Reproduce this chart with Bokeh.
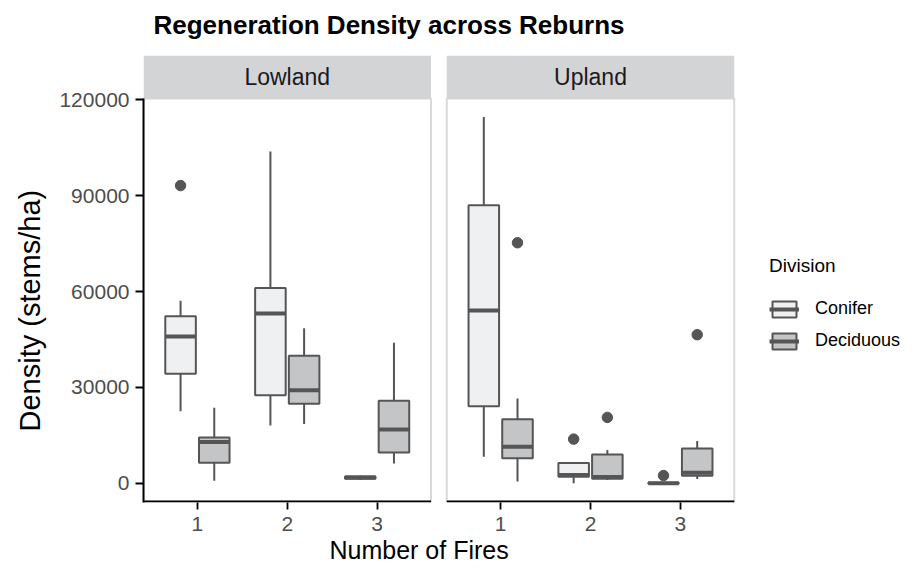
import numpy as np
from bokeh.plotting import figure
from bokeh.models import (FixedTicker, Legend, LegendItem, Range1d, Title,
                          BasicTickFormatter, ColumnDataSource)
from bokeh.embed import file_html
from bokeh.resources import INLINE
from bokeh.core.properties import value

# ---------------- data ----------------
regions = ["Lowland", "Upland"]
divisions = ["Conifer", "Deciduous"]
fires = [1, 2, 3]
fire_labels = ["1", "2", "3"]
y_ticks = [0, 30000, 60000, 90000, 120000]

# five-number summaries for Number of Fires = 1, 2, 3
lowland_conifer_lower = [22500, 18100, 1000]
lowland_conifer_q1 = [34300, 27500, 1400]
lowland_conifer_median = [45900, 53100, 1750]
lowland_conifer_q3 = [52300, 61100, 2100]
lowland_conifer_upper = [57100, 103900, 2300]

lowland_deciduous_lower = [800, 18500, 6200]
lowland_deciduous_q1 = [6400, 24900, 9600]
lowland_deciduous_median = [12900, 29100, 16800]
lowland_deciduous_q3 = [14300, 39900, 25800]
lowland_deciduous_upper = [23600, 48500, 44000]

upland_conifer_lower = [8300, 0, 0]
upland_conifer_q1 = [24100, 2000, 0]
upland_conifer_median = [54100, 2600, 0]
upland_conifer_q3 = [87000, 6300, 150]
upland_conifer_upper = [114700, 6300, 200]

upland_deciduous_lower = [500, 1000, 1300]
upland_deciduous_q1 = [7800, 1400, 2300]
upland_deciduous_median = [11400, 1900, 3300]
upland_deciduous_q3 = [20000, 9000, 10900]
upland_deciduous_upper = [26500, 10400, 13200]

outlier_region = ["Lowland", "Upland", "Upland", "Upland", "Upland", "Upland"]
outlier_division = ["Conifer", "Conifer", "Conifer", "Deciduous", "Deciduous", "Deciduous"]
outlier_fire = [1, 2, 3, 1, 2, 3]
outlier_value = [93200, 13800, 2400, 75300, 20600, 46500]

stats = {
    ("Lowland", "Conifer"): (lowland_conifer_lower, lowland_conifer_q1, lowland_conifer_median,
                             lowland_conifer_q3, lowland_conifer_upper),
    ("Lowland", "Deciduous"): (lowland_deciduous_lower, lowland_deciduous_q1, lowland_deciduous_median,
                               lowland_deciduous_q3, lowland_deciduous_upper),
    ("Upland", "Conifer"): (upland_conifer_lower, upland_conifer_q1, upland_conifer_median,
                            upland_conifer_q3, upland_conifer_upper),
    ("Upland", "Deciduous"): (upland_deciduous_lower, upland_deciduous_q1, upland_deciduous_median,
                              upland_deciduous_q3, upland_deciduous_upper),
}

# ---------------- styling / layout ----------------
FONT = "Liberation Sans"
FILL = {"Conifer": "#eff0f2", "Deciduous": "#c4c5c7"}
LINE = "#555555"
STRIP_FILL = "#d3d4d6"
BORDER = "#d9d9d9"

EXPAND = 0.6
PANEL_SPAN = (len(fires) - 1) + 2 * EXPAND
GAP = 0.175
offset = {r: i * (PANEL_SPAN + GAP) for i, r in enumerate(regions)}
DODGE = {"Conifer": -0.1875, "Deciduous": 0.1875}
BOX_W = 0.34

all_vals = [v for k in stats for v in stats[k][4]] + outlier_value + [v for k in stats for v in stats[k][0]]
ymin_data, ymax_data = min(all_vals), max(all_vals)
yr = ymax_data - ymin_data
y_lo = ymin_data - 0.05 * yr
y_hi = ymax_data + 0.05 * yr
PANEL_PX = 402
upp = (y_hi - y_lo) / PANEL_PX
STRIP_PX = 43
strip_top = y_hi + STRIP_PX * upp
y_start = y_lo - 1 * upp

W, H = 902, 563
LEFT_B = 135
PANELS_PX = 597          # width of the two facet panels incl. gap
LEGEND_PX = W - LEFT_B - PANELS_PX   # extra frame room on the right for the legend

x_start = fires[0] - EXPAND
x_panels_end = x_start + len(regions) * PANEL_SPAN + (len(regions) - 1) * GAP
xpx = PANELS_PX / (x_panels_end - x_start)
x_end = x_panels_end + LEGEND_PX / xpx

p = figure(width=W, height=H, output_backend="svg", toolbar_location=None,
           x_range=Range1d(x_start, x_end), y_range=Range1d(y_start, strip_top))
p.min_border_left = LEFT_B
p.min_border_right = 0
p.min_border_top = 0
p.min_border_bottom = 0
p.outline_line_color = None
p.grid.visible = False
p.background_fill_color = "white"
p.border_fill_color = "white"

# title: a thin spacer next to the frame, then the title itself
p.add_layout(Title(text=" ", text_font_size="1px", standoff=6), "above")
p.add_layout(Title(text="Regeneration Density across Reburns", align="left", offset=10,
                   standoff=14, vertical_align="bottom", text_font=FONT,
                   text_font_size="26px", text_font_style="bold", text_color="#000000"), "above")

# panels: borders and strips
for r in regions:
    left = x_start + offset[r]
    right = left + PANEL_SPAN
    p.quad(left=left, right=right, bottom=y_lo, top=y_hi, fill_color=None,
           line_color=BORDER, line_width=2)
    p.quad(left=left, right=right, bottom=y_hi, top=strip_top, fill_color=STRIP_FILL,
           line_color=None)
    p.text(x=[(left + right) / 2], y=[(y_hi + strip_top) / 2], text=[r],
           text_font=value(FONT), text_font_size="23px", text_color="#1a1a1a",
           text_align="center", text_baseline="middle")
    p.segment(x0=[left], y0=[y_lo], x1=[right], y1=[y_lo], line_color="#000000", line_width=2)

legend_renderers = {}
for r in regions:
    for d in divisions:
        lo, q1, med, q3, hi = stats[(r, d)]
        xs = np.array(fires, dtype=float) + offset[r] + DODGE[d]
        src = ColumnDataSource(dict(x=xs, left=xs - BOX_W / 2, right=xs + BOX_W / 2,
                                    lo=lo, q1=q1, med=med, q3=q3, hi=hi))
        p.segment(x0="x", y0="lo", x1="x", y1="q1", source=src, line_color=LINE, line_width=2)
        p.segment(x0="x", y0="q3", x1="x", y1="hi", source=src, line_color=LINE, line_width=2)
        box = p.quad(left="left", right="right", bottom="q1", top="q3", source=src,
                     fill_color=FILL[d], line_color=LINE, line_width=2)
        med_r = p.segment(x0="left", y0="med", x1="right", y1="med", source=src,
                          line_color=LINE, line_width=4)
        if r == regions[0]:
            legend_renderers[d] = [box, med_r]

ox = [f + offset[r] + DODGE[d] for f, r, d in zip(outlier_fire, outlier_region, outlier_division)]
p.scatter(x=ox, y=outlier_value, size=10.5, fill_color=LINE, line_color=LINE)

# axes
p.xaxis.ticker = FixedTicker(ticks=[f + offset[r] for r in regions for f in fires])
p.xaxis.major_label_overrides = {f + offset[r]: lab for r in regions for f, lab in zip(fires, fire_labels)}
p.xaxis.axis_line_color = None
p.xaxis.major_tick_line_color = "#000000"
p.xaxis.major_tick_line_width = 1.8
p.xaxis.major_tick_out = 7
p.xaxis.major_tick_in = 0
p.xaxis.minor_tick_line_color = None
p.xaxis.major_label_text_font = FONT
p.xaxis.major_label_text_font_size = "21px"
p.xaxis.major_label_text_color = "#4d4d4d"
p.xaxis.major_label_standoff = 7

p.add_layout(Title(text="Number of Fires", align="left", offset=186, standoff=0,
                   vertical_align="bottom", text_font=FONT, text_font_size="25px",
                   text_font_style="normal", text_color="#000000"), "below")

p.yaxis.ticker = FixedTicker(ticks=y_ticks)
p.yaxis.formatter = BasicTickFormatter(use_scientific=False)
p.yaxis.bounds = (y_start, y_hi)
p.yaxis.axis_line_color = "#000000"
p.yaxis.axis_line_width = 2
p.yaxis.major_tick_line_color = "#000000"
p.yaxis.major_tick_line_width = 1.8
p.yaxis.major_tick_out = 8
p.yaxis.major_tick_in = 0
p.yaxis.minor_tick_line_color = None
p.yaxis.major_label_text_font = FONT
p.yaxis.major_label_text_font_size = "21px"
p.yaxis.major_label_text_color = "#4d4d4d"
p.yaxis.major_label_standoff = 6

p.add_layout(Title(text="Density (stems/ha)", align="left", offset=71, standoff=22,
                   vertical_align="bottom", text_font=FONT, text_font_size="29px",
                   text_font_style="normal", text_color="#000000"), "left")

legend = Legend(items=[LegendItem(label=d, renderers=legend_renderers[d]) for d in divisions],
                title="Division", location=(PANELS_PX + 29, 151))
legend.title_text_font = FONT
legend.title_text_font_size = "19px"
legend.title_text_font_style = "normal"
legend.title_text_color = "#000000"
legend.title_standoff = 21
legend.label_text_font = FONT
legend.label_text_font_size = "18px"
legend.label_text_color = "#000000"
legend.glyph_width = 30
legend.glyph_height = 20
legend.label_standoff = 16
legend.spacing = 11
legend.padding = 0
legend.margin = 0
legend.border_line_color = None
legend.background_fill_alpha = 0
p.add_layout(legend, "center")

open("out.html", "w").write(file_html(p, INLINE))
